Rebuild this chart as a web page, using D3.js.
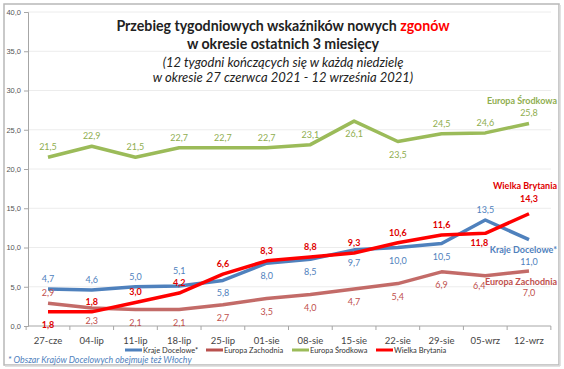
<!DOCTYPE html>
<html><head><meta charset="utf-8">
<script src="https://cdn.jsdelivr.net/npm/d3@7/dist/d3.min.js"></script>
<style>
body{margin:0;background:#fff;}
svg{display:block;font-family:Lato,"Open Sans",sans-serif;}
</style></head>
<body><svg id="c" width="564" height="369"></svg>
<script>
const categories = ["27-cze","04-lip","11-lip","18-lip","25-lip","01-sie","08-sie","15-sie","22-sie","29-sie","05-wrz","12-wrz"];
const krajeDocelowe   = [4.7,4.6,5.0,5.1,5.8,8.0,8.5,9.7,10.0,10.5,13.5,11.0];
const europaZachodnia = [2.9,2.3,2.1,2.1,2.7,3.5,4.0,4.7,5.4,6.9,6.4,7.0];
const europaSrodkowa  = [21.5,22.9,21.5,22.7,22.7,22.7,23.1,26.1,23.5,24.5,24.6,25.8];
const wielkaBrytania  = [1.8,1.8,3.0,4.2,6.6,8.3,8.8,9.3,10.6,11.6,11.8,14.3];
const yTicks = [0,5,10,15,20,25,30,35,40];
const seriesNames = ["Kraje Docelowe*","Europa Zachodnia","Europa Środkowa","Wielka Brytania"];
// label placement: a = above, A = higher above, b = below, B = further below, l = below shifted left
const placeKD = "aaaAbbbbbbaB";
const placeEZ = "abbbbbbbbblB";
const placeES = "aaaaaaabbaaa";
const placeWB = "baaaaaaaaalA";
const offs = {a:[0,-7], A:[0,-12], b:[0,16], B:[0,25], l:[-6,13]};

const svg = d3.select("#c");
const fmt = v => d3.format(".1f")(v).replace(".", ",");

// frame
svg.append("rect").attr("x",4).attr("y",4).attr("width",555).attr("height",361)
  .attr("fill","none").attr("stroke","#b8b8b8").attr("stroke-width",1.5);
svg.append("line").attr("x1",5).attr("x2",560).attr("y1",366).attr("y2",366).attr("stroke","#d8d8d8").attr("stroke-width",1.5);
svg.append("line").attr("x1",560).attr("x2",560).attr("y1",5).attr("y2",366).attr("stroke","#d8d8d8").attr("stroke-width",1.5);

const x = d3.scalePoint().domain(categories).range([48,529]);
const step = x.step();
const y = d3.scaleLinear().domain([0,40]).range([326,12]);

// gridlines
svg.append("g").selectAll("line").data(yTicks.slice(1)).join("line")
  .attr("x1",28).attr("x2",551).attr("y1",d=>y(d)).attr("y2",d=>y(d))
  .attr("stroke","#ececec").attr("stroke-width",1);

// y axis
const yAxis = d3.axisLeft(y).tickValues(yTicks).tickFormat(fmt).tickSize(4).tickPadding(3);
const gy = svg.append("g").attr("transform","translate(28,0)").call(yAxis);
gy.select(".domain").attr("stroke","#a6a6a6");
gy.selectAll(".tick line").attr("stroke","#a6a6a6");
gy.selectAll("text").attr("font-size",7.5).attr("fill","#555");

// x axis
const gx = svg.append("g").attr("transform","translate(0,326)");
gx.append("line").attr("x1",28).attr("x2",x(categories[11])+step/2).attr("stroke","#a6a6a6");
gx.selectAll(".tk").data(d3.range(categories.length+1)).join("line")
  .attr("x1",i=>x(categories[0])-step/2+i*step).attr("x2",i=>x(categories[0])-step/2+i*step)
  .attr("y1",0).attr("y2",4).attr("stroke","#a6a6a6");
gx.selectAll("text").data(categories).join("text")
  .attr("x",d=>x(d)).attr("y",18).attr("text-anchor","middle")
  .attr("font-size",9.5).attr("fill","#444").text(d=>d);

const series = [
  {name:seriesNames[0], vals:krajeDocelowe, color:"#4F81BD", lab:"#4F81BD", place:placeKD, bold:false},
  {name:seriesNames[1], vals:europaZachodnia, color:"#B9514E", lab:"#C0504D", place:placeEZ, bold:false, op:0.85},
  {name:seriesNames[2], vals:europaSrodkowa, color:"#9BBB59", lab:"#8fae4f", place:placeES, bold:false},
  {name:seriesNames[3], vals:wielkaBrytania, color:"#FF0000", lab:"#E00000", place:placeWB, bold:true}
];
const line = d3.line().x((d,i)=>x(categories[i])).y(d=>y(d));
const order = [1,2,0,3];
order.forEach(k=>{
  const s = series[k];
  svg.append("path").datum(s.vals).attr("d",line).attr("fill","none")
    .attr("stroke",s.color).attr("stroke-width",3.5).attr("stroke-linejoin","round")
    .attr("opacity",s.op||1);
});
series.forEach(s=>{
  svg.append("g").selectAll("text").data(s.vals).join("text")
    .attr("x",(d,i)=>x(categories[i]) + offs[s.place[i]][0])
    .attr("y",(d,i)=>y(d) + offs[s.place[i]][1])
    .attr("text-anchor","middle").attr("font-size",9)
    .attr("font-weight",s.bold?"bold":"normal")
    .attr("fill",s.lab).text(d=>fmt(d));
});

// series name labels at the right
const nameLab = [
  {s:2, y:104, c:"#8fae4f"},
  {s:3, y:189, c:"#E00000"},
  {s:0, y:253, c:"#4F81BD"},
  {s:1, y:285, c:"#C0504D"}
];
nameLab.forEach(n=>{
  svg.append("text").attr("x",557).attr("y",n.y).attr("text-anchor","end")
    .attr("font-size",9).attr("font-weight","bold").attr("fill",n.c).text(series[n.s].name);
});

// title
const t = svg.append("g").attr("text-anchor","middle");
const t1 = t.append("text").attr("x",283).attr("y",31).attr("font-size",14.2).attr("font-weight","bold").attr("fill","#222");
t1.append("tspan").text("Przebieg tygodniowych wskaźników nowych ");
t1.append("tspan").attr("fill","#FF0000").text("zgonów");
t.append("text").attr("x",283).attr("y",49).attr("font-size",14.2).attr("font-weight","bold").attr("fill","#222").text("w okresie ostatnich 3 miesięcy");
t.append("text").attr("x",283).attr("y",67).attr("font-size",13).attr("font-style","italic").attr("fill","#222").text("(12 tygodni kończących się w każdą niedzielę");
t.append("text").attr("x",283).attr("y",82).attr("font-size",13).attr("font-style","italic").attr("fill","#222").text("w okresie 27 czerwca 2021 - 12 września 2021)");

// legend
const legX = [125,206,292,376];
const lg = svg.append("g");
series.forEach((s,i)=>{
  lg.append("line").attr("x1",legX[i]).attr("x2",legX[i]+17).attr("y1",350).attr("y2",350)
    .attr("stroke",s.color).attr("stroke-width",3);
  lg.append("text").attr("x",legX[i]+18).attr("y",352.5).attr("font-size",7.5).attr("fill","#333").text(s.name);
});

// footnote
svg.append("text").attr("x",8).attr("y",363).attr("font-size",8.8).attr("font-style","italic")
  .attr("fill","#4F81BD").text("* Obszar Krajów Docelowych obejmuje też  Włochy");
</script></body></html>
